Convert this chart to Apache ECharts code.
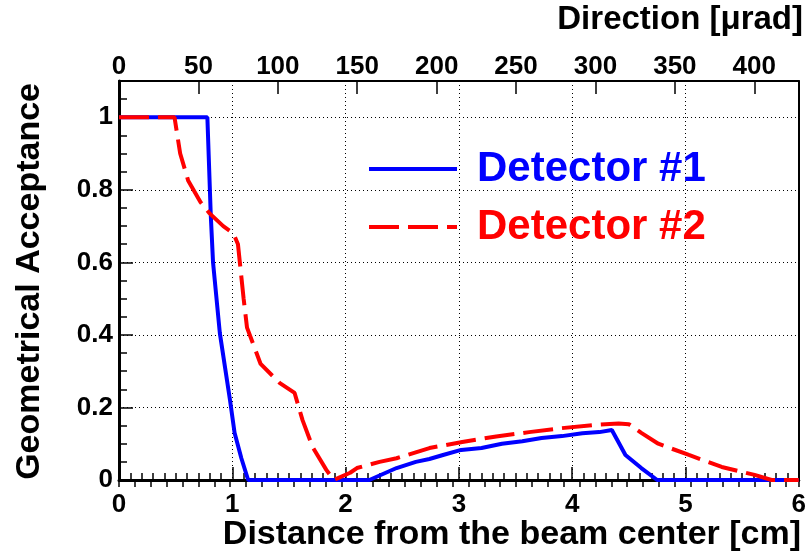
<!DOCTYPE html>
<html>
<head>
<meta charset="utf-8">
<script src="https://cdn.jsdelivr.net/npm/echarts@6/dist/echarts.min.js"></script>
<style>
html,body{margin:0;padding:0;background:#fff;}
#chart{width:809px;height:558px;}
</style>
</head>
<body>
<div id="chart"></div>
<script>
// Detector #1 (solid blue)
var det1X = [0, 0.78, 0.81, 0.83, 0.89, 0.98, 1.02, 1.08, 1.14, 2.21, 2.45, 2.62, 2.74, 2.86, 3.02, 3.2, 3.38, 3.56, 3.73, 3.91, 4.09, 4.24, 4.35, 4.47, 4.61, 4.75, 6.0];
var det1Y = [1, 1, 0.73, 0.60, 0.405, 0.22, 0.13, 0.06, 0, 0, 0.033, 0.05, 0.058, 0.069, 0.083, 0.088, 0.1, 0.107, 0.116, 0.121, 0.129, 0.132, 0.138, 0.069, 0.033, 0, 0];
// Detector #2 (dashed red)
var det2X = [0, 0.49, 0.54, 0.61, 0.72, 0.80, 0.92, 1.01, 1.05, 1.10, 1.13, 1.25, 1.42, 1.55, 1.62, 1.71, 1.83, 1.895, 2.04, 2.1, 2.3, 2.45, 2.74, 3.03, 3.33, 3.62, 3.91, 4.21, 4.41, 4.5, 4.61, 4.76, 5.03, 5.32, 5.61, 5.76, 6.0];
var det2Y = [1, 1, 0.90, 0.826, 0.766, 0.735, 0.70, 0.68, 0.65, 0.50, 0.42, 0.32, 0.267, 0.24, 0.165, 0.09, 0.028, 0, 0.02, 0.033, 0.05, 0.06, 0.088, 0.105, 0.12, 0.132, 0.143, 0.152, 0.156, 0.154, 0.13, 0.10, 0.069, 0.036, 0.014, 0, 0];
var seriesNames = ['Detector #1', 'Detector #2'];
var xTitle = 'Distance from the beam center [cm]';
var yTitle = 'Geometrical Acceptance';
var topTitle = 'Direction [\u03bcrad]';
var xMin = 0, xMax = 6, xStep = 1;
var topMin = 0, topMax = 428, topStep = 50, topMinor = 10;
var yMin = 0, yMax = 1.1, yStep = 0.2, yMinor = 0.05;

function pairs(xs, ys){ return xs.map(function(x,i){ return [x, ys[i]]; }); }

var FONT = '"Liberation Sans", Arial, Helvetica, sans-serif';
var lbl = {fontFamily: FONT, fontWeight: 'bold', fontSize: 26, color: '#000'};
var DASH = [30, 9];

var chart = echarts.init(document.getElementById('chart'), null, {renderer: 'canvas'});
chart.setOption({
  animation: false,
  backgroundColor: '#fff',
  grid: {left: 119, right: 8, top: 81, bottom: 78, containLabel: false},
  legend: {
    orient: 'vertical', left: 362, top: 143,
    itemWidth: 88, itemHeight: 14, itemGap: 16,
    selectedMode: false,
    itemStyle: {opacity: 0},
    textStyle: {fontFamily: FONT, fontWeight: 'bold', fontSize: 42, lineHeight: 42, padding: [0,0,0,15]},
    data: [
      {name: seriesNames[0], textStyle: {color: '#0000ff'}, lineStyle: {color: '#0000ff', width: 4, type: 'solid'}},
      {name: seriesNames[1], textStyle: {color: '#ff0000'}, lineStyle: {color: '#ff0000', width: 4, type: DASH}}
    ]
  },
  xAxis: [
    {type: 'value', position: 'bottom', min: xMin, max: xMax, interval: xStep,
     axisLine: {show: true, onZero: false, lineStyle: {color: '#000', width: 3}},
     axisTick: {show: true, inside: true, length: 13, lineStyle: {color: '#000', width: 1.5}},
     minorTick: {show: true, splitNumber: 10, length: 7, lineStyle: {color: '#000', width: 1.5}},
     axisLabel: Object.assign({margin: 12}, lbl),
     splitLine: {show: true, lineStyle: {color: '#000', width: 1, type: [1, 3]}}},
    {type: 'value', position: 'top', min: topMin, max: topMax, interval: topStep,
     axisLine: {show: true, onZero: false, lineStyle: {color: '#000', width: 2}},
     axisTick: {show: true, inside: true, length: 13, lineStyle: {color: '#000', width: 1.5}},
     axisLabel: Object.assign({margin: 1, showMaxLabel: false}, lbl),
     splitLine: {show: false}},
    {type: 'value', position: 'top', min: topMin, max: topMax, interval: topMinor,
     axisLine: {show: false},
     axisTick: {show: true, inside: true, length: 7, lineStyle: {color: '#000', width: 1.5}},
     axisLabel: {show: false},
     splitLine: {show: false}}
  ],
  yAxis: [
    {type: 'value', position: 'left', min: yMin, max: yMax, interval: yStep,
     axisLine: {show: true, onZero: false, lineStyle: {color: '#000', width: 3}},
     axisTick: {show: true, inside: true, length: 14, lineStyle: {color: '#000', width: 1.5}},
     axisLabel: Object.assign({margin: 6, showMaxLabel: false}, lbl),
     splitLine: {show: true, lineStyle: {color: '#000', width: 1, type: [1, 3]}}},
    {type: 'value', position: 'left', min: yMin, max: yMax, interval: yMinor,
     axisLine: {show: false},
     axisTick: {show: true, inside: true, length: 8, lineStyle: {color: '#000', width: 1.5}},
     axisLabel: {show: false},
     splitLine: {show: false}},
    {type: 'value', position: 'right', min: yMin, max: yMax,
     axisLine: {show: true, onZero: false, lineStyle: {color: '#000', width: 2}},
     axisTick: {show: false}, axisLabel: {show: false}, splitLine: {show: false}}
  ],
  series: [
    {name: seriesNames[0], type: 'line', xAxisIndex: 0, yAxisIndex: 0,
     data: pairs(det1X, det1Y), symbol: 'none', smooth: false,
     itemStyle: {color: '#0000ff'},
     lineStyle: {color: '#0000ff', width: 4}},
    {name: seriesNames[1], type: 'line', xAxisIndex: 0, yAxisIndex: 0,
     data: pairs(det2X, det2Y), symbol: 'none', smooth: false,
     itemStyle: {color: '#ff0000'},
     lineStyle: {color: '#ff0000', width: 4, type: DASH}}
  ],
  graphic: [
    {type: 'text', right: 6, top: 3,
     style: {text: topTitle, font: 'bold 33px ' + FONT, fill: '#000'}},
    {type: 'text', right: 8, top: 518,
     style: {text: xTitle, font: 'bold 34px ' + FONT, fill: '#000'}},
    {type: 'text', x: 30, y: 83, rotation: Math.PI / 2,
     style: {text: yTitle, font: 'bold 34px ' + FONT, fill: '#000', align: 'right', verticalAlign: 'middle'}}
  ]
});
</script>
</body>
</html>
